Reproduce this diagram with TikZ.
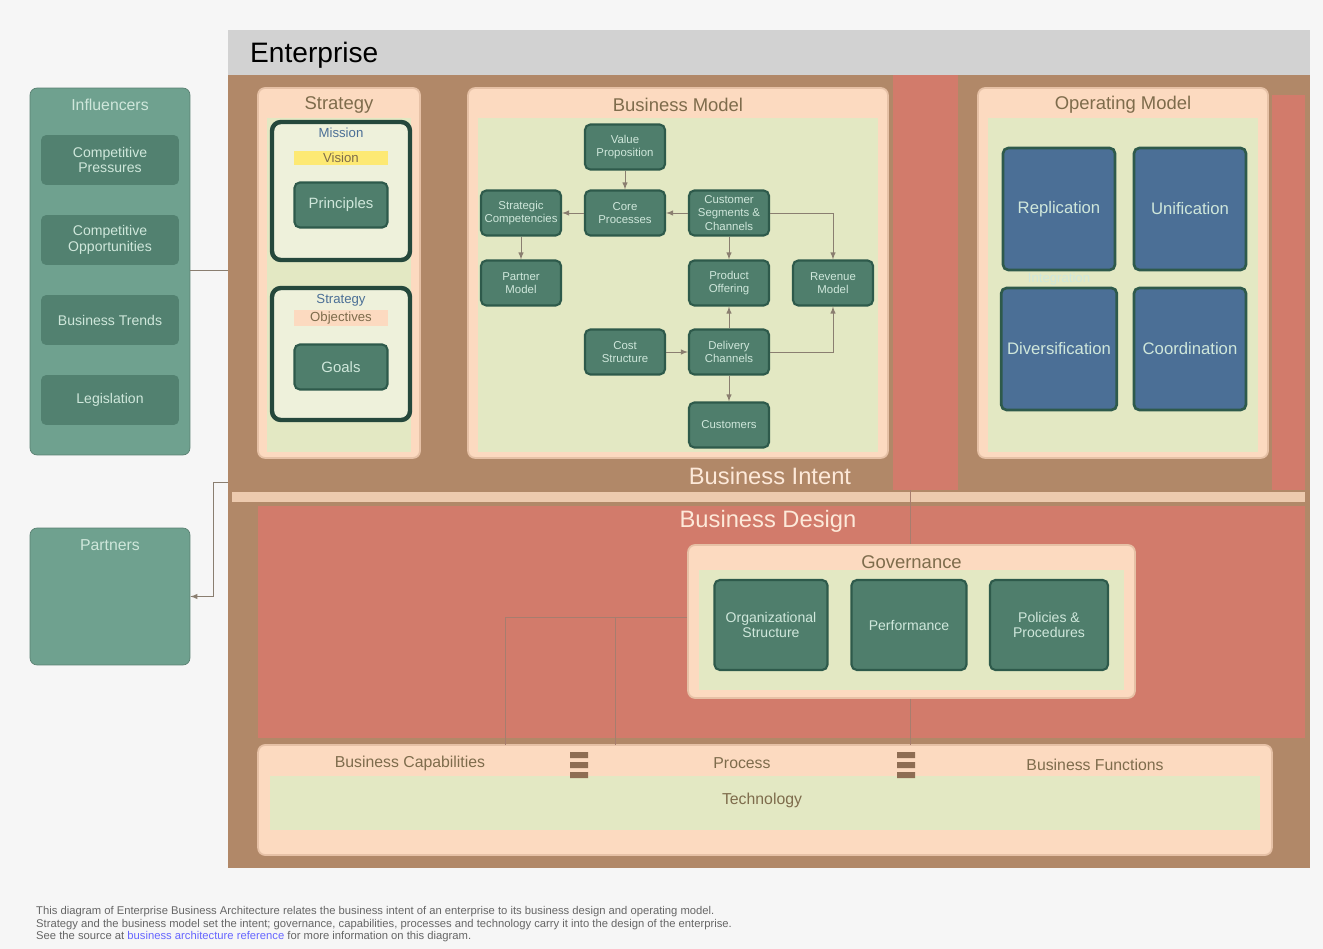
\documentclass[tikz,border=0pt]{standalone}
\usepackage{fontspec}
\setmainfont{Liberation Sans}
\usetikzlibrary{positioning}
\definecolor{paper}{HTML}{F6F6F6}
\definecolor{barclr}{HTML}{D2D2D2}
\definecolor{brownclr}{HTML}{B18868}
\definecolor{salmonclr}{HTML}{D27B6B}
\definecolor{peachclr}{HTML}{FCDAC0}
\definecolor{greenclr}{HTML}{E3E8C3}
\definecolor{boxfill}{HTML}{4F7E6C}
\definecolor{boxedge}{HTML}{2E5A4B}
\definecolor{boxtext}{HTML}{CFE7DB}
\definecolor{inflclr}{HTML}{6FA18F}
\definecolor{blueclr}{HTML}{4B6F96}
\definecolor{titleclr}{HTML}{7E6C4C}
\definecolor{lineclr}{HTML}{8A7E70}
\tikzset{
    Panel/.style = {rectangle, draw=peachclr!70!brownclr, fill=peachclr, rounded corners=4pt, line width=1pt}
}
\tikzset{
    Inner/.style = {rectangle, fill=greenclr, inner sep=0pt}
}
\tikzset{
    Box/.style = {rectangle, rounded corners=3pt, draw=boxedge, fill=boxfill, line width=1.2pt, text=boxtext, align=center, minimum width=1.6cm, minimum height=0.9cm, inner sep=1pt, font=\fontsize{6.5}{7.5}\selectfont}
}
\tikzset{
    Quad/.style = {rectangle, rounded corners=3pt, draw=boxedge, fill=blueclr, line width=1.5pt, text=boxtext, minimum width=2.24cm, minimum height=2.44cm, font=\fontsize{9.5}{11}\selectfont}
}
\tikzset{
    Frame/.style = {rectangle, rounded corners=5pt, draw=boxedge!80!black, fill=greenclr!60!white, line width=2.5pt, minimum width=2.76cm}
}
\tikzset{
    Title/.style = {text=titleclr, font=\fontsize{10.5}{12}\selectfont}
}
\tikzset{
    Edge/.style = {draw=lineclr, thin, -latex}
}

\begin{document}
\begin{tikzpicture}[
    x=0.02cm, y=-0.02cm,
    font=\sffamily\rmfamily
]
\useasboundingbox (0,0) rectangle (1323,949);
\fill[paper] (0,0) rectangle (1323,949);

% enterprise frame
\fill[barclr] (228,30) rectangle (1310,75);
\fill[brownclr] (228,75) rectangle (1310,868);
\fill[salmonclr] (893,75) rectangle (958,490);
\fill[salmonclr] (1272,95) rectangle (1305,490);
\fill[peachclr!80!brownclr] (232,492) rectangle (1305,502);
\fill[salmonclr] (258,506) rectangle (1305,738);
\node[anchor=west, font=\fontsize{16}{18}\selectfont] at (244,55) (ent) {Enterprise};

% influencers and partners
\node[rectangle, rounded corners=4pt, fill=inflclr, draw=inflclr!80!black, minimum width=3.2cm, minimum height=7.34cm] at (110,271.5) (infl) {};
\node[text=boxtext, font=\fontsize{9}{10}\selectfont] at (110,105) (infltitle) {Influencers};
\node[Box, fill=boxfill!90!inflclr, draw=none, minimum width=2.76cm, minimum height=1.0cm, font=\fontsize{8}{9}\selectfont] at (110,160) (i1) {Competitive\\Pressures};
\node[Box, fill=boxfill!90!inflclr, draw=none, minimum width=2.76cm, minimum height=1.0cm, font=\fontsize{8}{9}\selectfont] at (110,240) (i2) {Competitive\\Opportunities};
\node[Box, fill=boxfill!90!inflclr, draw=none, minimum width=2.76cm, minimum height=1.0cm, font=\fontsize{8}{9}\selectfont] at (110,320) (i3) {Business Trends};
\node[Box, fill=boxfill!90!inflclr, draw=none, minimum width=2.76cm, minimum height=1.0cm, font=\fontsize{8}{9}\selectfont] at (110,400) (i4) {Legislation};
\node[rectangle, rounded corners=4pt, fill=inflclr, draw=inflclr!80!black, minimum width=3.2cm, minimum height=2.74cm] at (110,596.5) (part) {};
\node[text=boxtext, font=\fontsize{9}{10}\selectfont] at (110,545) (parttitle) {Partners};
\coordinate (entin) at (228,270);
\coordinate (entlow) at (228,482);
\coordinate (bend) at (213,482);
\draw[lineclr, thin] (infl.east |- entin) -- (entin);
\draw[Edge] (entlow) -- (bend) |- (part.east);

% strategy
\node[Panel, minimum width=3.24cm, minimum height=7.4cm] at (339,273) (strat) {};
\node[Inner, minimum width=2.9cm, minimum height=6.7cm] at (339,285) (stratin) {};
\node[Title] at (339,105) (strattitle) {Strategy};
\node[Frame, minimum height=2.76cm] at (341,191) (mission) {};
\node[text=blueclr, font=\fontsize{7.5}{8}\selectfont] at (341,133) (missionlbl) {Mission};
\node[fill=peachclr!60!yellow, text=titleclr, minimum width=1.9cm, inner sep=1pt, font=\fontsize{7.5}{8}\selectfont] at (341,158) (vision) {Vision};
\node[Box, minimum width=1.86cm, font=\fontsize{8.5}{9}\selectfont] at (341,205) (princ) {Principles};
\node[Frame, minimum height=2.64cm] at (341,354) (goalsfr) {};
\node[text=blueclr, font=\fontsize{7.5}{8}\selectfont] at (341,300) (stratlbl) {Strategy};
\node[fill=peachclr, text=titleclr, minimum width=1.9cm, inner sep=1pt, font=\fontsize{7.5}{8}\selectfont] at (341,318) (obj) {Objectives};
\node[Box, minimum width=1.86cm, font=\fontsize{8.5}{9}\selectfont] at (341,367) (goals) {Goals};

% business model
\node[Panel, minimum width=8.4cm, minimum height=7.4cm] at (678,273) (bm) {};
\node[Inner, minimum width=8.0cm, minimum height=6.7cm] at (678,285) (bmin) {};
\node[Title] at (678,105) (bmtitle) {Business Model};
\node[Box] at (625,147) (bm1) {Value\\Proposition};
\node[Box] at (521,213) (bm2) {Strategic\\Competencies};
\node[Box] at (625,213) (bm3) {Core\\Processes};
\node[Box] at (729,213) (bm4) {Customer\\Segments \&\\Channels};
\node[Box] at (521,283) (bm5) {Partner\\Model};
\node[Box] at (729,283) (bm6) {Product\\Offering};
\node[Box] at (833,283) (bm7) {Revenue\\Model};
\node[Box] at (625,352) (bm8) {Cost\\Structure};
\node[Box] at (729,352) (bm9) {Delivery\\Channels};
\node[Box] at (729,425) (bm10) {Customers};
\path (bm1) edge [Edge] (bm3);
\path (bm3) edge [Edge] (bm2);
\path (bm4) edge [Edge] (bm3);
\path (bm2) edge [Edge] (bm5);
\path (bm4) edge [Edge] (bm6);
\path (bm9) edge [Edge] (bm6);
\path (bm8) edge [Edge] (bm9);
\path (bm9) edge [Edge] (bm10);
\draw[Edge] (bm4.east) -| (bm7.north);
\draw[Edge] (bm9.east) -| (bm7.south);

% operating model
\node[Panel, minimum width=5.8cm, minimum height=7.4cm] at (1123,273) (om) {};
\node[Inner, minimum width=5.4cm, minimum height=6.7cm] at (1123,285) (omin) {};
\node[Title] at (1123,105) (omtitle) {Operating Model};
\node[Quad] at (1059,209) (q1) {Replication};
\node[Quad] at (1190,209) (q2) {Unification};
\node[Quad] at (1059,349) (q3) {Diversification};
\node[Quad] at (1190,349) (q4) {Coordination};
\node[text=boxtext, font=\fontsize{7.5}{8}\selectfont] at (1059,279) (integ) {Integration};

% intent and design labels
\node[text=peachclr!60!white, font=\fontsize{13.5}{15}\selectfont] at (770,476) (intent) {Business Intent};
\node[text=peachclr!60!white, font=\fontsize{13.5}{15}\selectfont] at (768,521) (design) {Business Design};

% governance
\node[Panel, minimum width=8.94cm, minimum height=3.06cm] at (911.5,621.5) (gov) {};
\node[Inner, minimum width=8.5cm, minimum height=2.4cm] at (911.5,630) (govin) {};
\node[Title] at (911.5,562) (govtitle) {Governance};
\node[Box, minimum width=2.26cm, minimum height=1.8cm, font=\fontsize{8}{9}\selectfont] at (771,625) (g1) {Organizational\\Structure};
\node[Box, minimum width=2.3cm, minimum height=1.8cm, font=\fontsize{8}{9}\selectfont] at (909,625) (g2) {Performance};
\node[Box, minimum width=2.36cm, minimum height=1.8cm, font=\fontsize{8}{9}\selectfont] at (1049,625) (g3) {Policies \&\\Procedures};

% bottom band
\node[Panel, minimum width=20.28cm, minimum height=2.2cm] at (765,800) (base) {};
\node[Inner, minimum width=19.8cm, minimum height=1.1cm] at (765,803) (basein) {};
\node[Title, font=\fontsize{9}{10}\selectfont] at (410,763) (cap) {Business Capabilities};
\node[Title, font=\fontsize{9}{10}\selectfont] at (742,763) (proc) {Process};
\node[Title, font=\fontsize{9}{10}\selectfont] at (762,800) (tech) {Technology};
\node[Title, font=\fontsize{9}{10}\selectfont] at (1095,765) (func) {Business Functions};
\fill[brownclr!80!black] (570,752) rectangle (588,758) (570,762) rectangle (588,768) (570,772) rectangle (588,778);
\fill[brownclr!80!black] (897,752) rectangle (915,758) (897,762) rectangle (915,768) (897,772) rectangle (915,778);

% design connectors
\coordinate (c1) at (505,617);
\coordinate (c2) at (505,745);
\coordinate (c3) at (615,617);
\coordinate (c4) at (615,745);
\coordinate (c5) at (910,490);
\coordinate (c6) at (910,745);
\draw[lineclr!60!salmonclr, thin] (gov.west |- c1) -- (c1) -- (c2);
\draw[lineclr!60!salmonclr, thin] (c3) -- (c4);
\draw[lineclr!60!salmonclr, thin] (c5) -- (gov.north -| c5);
\draw[lineclr!60!salmonclr, thin] (gov.south -| c6) -- (c6);

% caption
\node[anchor=north west, align=left, text=black!60, font=\fontsize{6.4}{7.2}\selectfont] at (30,900) (capt) {This diagram of Enterprise Business Architecture relates the business intent of an enterprise to its business design and operating model.\\Strategy and the business model set the intent; governance, capabilities, processes and technology carry it into the design of the enterprise.\\See the source at \textcolor{blue!60}{business architecture reference} for more information on this diagram.};
\end{tikzpicture}
\end{document}
